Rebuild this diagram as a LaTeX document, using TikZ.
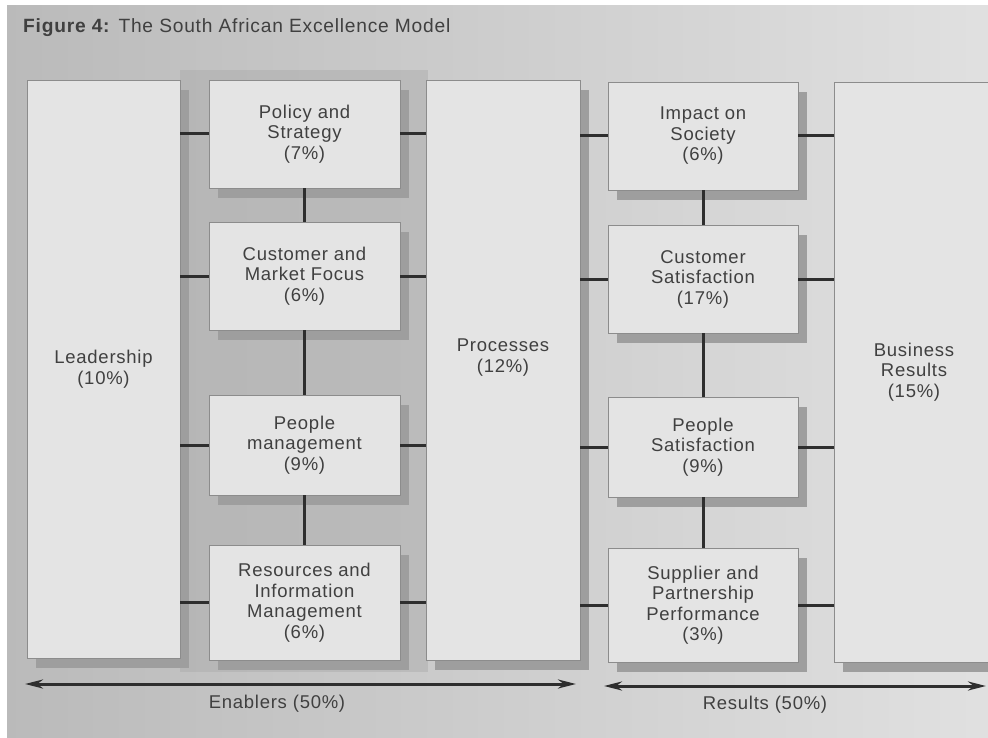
\documentclass[tikz,border=0pt]{standalone}
\usepackage{fontspec}
\setmainfont{Liberation Sans}[LetterSpace=4]
\usetikzlibrary{arrows.meta,shadows}
\definecolor{ink}{HTML}{404040}
\definecolor{linkc}{HTML}{2E2E2E}
\definecolor{boxfill}{HTML}{E4E4E4}
\definecolor{boxedge}{HTML}{8C8C8C}
\definecolor{shade}{HTML}{9E9E9E}
\tikzset{
  panel/.style={draw=boxedge, line width=0.8pt, fill=boxfill, text=ink,
    align=center, inner sep=0pt,
    font=\fontsize{18.5}{20.5}\selectfont,
    drop shadow={shadow xshift=9pt, shadow yshift=-10pt, fill=shade, opacity=1}},
  link/.style={draw=linkc, line width=3pt},
  span/.style={draw=linkc, line width=3pt,
    {Stealth[length=18pt,width=9pt]}-{Stealth[length=18pt,width=9pt]}},
  caption/.style={text=ink, font=\fontsize{18.5}{20}\selectfont, inner sep=0pt}
}
\begin{document}
\begin{tikzpicture}[x=1pt,y=-1pt]
  % page and grey backdrop
  \useasboundingbox (0,0) rectangle (988,738);
  \fill[white] (0,0) rectangle (988,738);
  \shade[left color=black!27, right color=black!12] (7,6) rectangle (988,738);
  \fill[black!32, opacity=0.5] (180,70) rectangle (428,672);

  % title
  \node[caption, anchor=west, font=\fontsize{19.2}{20}\selectfont] (title) at (23,28)
    {\textbf{Figure 4:} The South African Excellence Model};

  % enablers
  \node[panel, minimum width=153pt, minimum height=578pt] (lead) at (103.5,369)
    {Leadership\\(10\%)};
  \node[panel, minimum width=191pt, minimum height=108pt] (pol) at (304.5,134)
    {Policy and\\Strategy\\(7\%)};
  \node[panel, minimum width=191pt, minimum height=108pt] (cmf) at (304.5,276)
    {Customer and\\Market Focus\\(6\%)};
  \node[panel, minimum width=191pt, minimum height=100pt] (ppl) at (304.5,445)
    {People\\management\\(9\%)};
  \node[panel, minimum width=191pt, minimum height=115pt] (res) at (304.5,602.5)
    {Resources and\\Information\\Management\\(6\%)};
  \node[panel, minimum width=154pt, minimum height=580pt] (proc) at (503,370)
    {Processes\\(12\%)\\[8pt]};

  % results
  \node[panel, minimum width=190pt, minimum height=108pt] (soc) at (703,136)
    {Impact on\\Society\\(6\%)};
  \node[panel, minimum width=190pt, minimum height=108pt] (csat) at (703,279)
    {Customer\\Satisfaction\\(17\%)};
  \node[panel, minimum width=190pt, minimum height=100pt] (psat) at (703,447)
    {People\\Satisfaction\\(9\%)};
  \node[panel, minimum width=190pt, minimum height=114pt] (sup) at (703,605)
    {Supplier and\\Partnership\\Performance\\(3\%)};
  \node[panel, minimum width=160pt, minimum height=580pt] (biz) at (914,372)
    {Business\\Results\\(15\%)};

  % links: leadership to the enabler column
  \foreach \b in {pol,cmf,ppl,res} {
    \draw[link] (\b.west) -- (\b.west -| lead.east);
    \draw[link] (\b.east) -- (\b.east -| proc.west);
  }
  % links: processes to the result column, results to business results
  \foreach \b in {soc,csat,psat,sup} {
    \draw[link] (\b.west) -- (\b.west -| proc.east);
    \draw[link] (\b.east) -- (\b.east -| biz.west);
  }
  % vertical links within each column
  \draw[link] (pol.south) -- (cmf.north);
  \draw[link] (cmf.south) -- (ppl.north);
  \draw[link] (ppl.south) -- (res.north);
  \draw[link] (soc.south) -- (csat.north);
  \draw[link] (csat.south) -- (psat.north);
  \draw[link] (psat.south) -- (sup.north);

  % span arrows
  \coordinate (enA) at (25,684);
  \coordinate (enB) at (576,684);
  \coordinate (reA) at (604,686);
  \coordinate (reB) at (986,686);
  \draw[span] (enA) -- (enB);
  \draw[span] (reA) -- (reB);
  \node[caption] (enl) at (277,704) {Enablers (50\%)};
  \node[caption] (rel) at (765,705) {Results (50\%)};
\end{tikzpicture}
\end{document}
